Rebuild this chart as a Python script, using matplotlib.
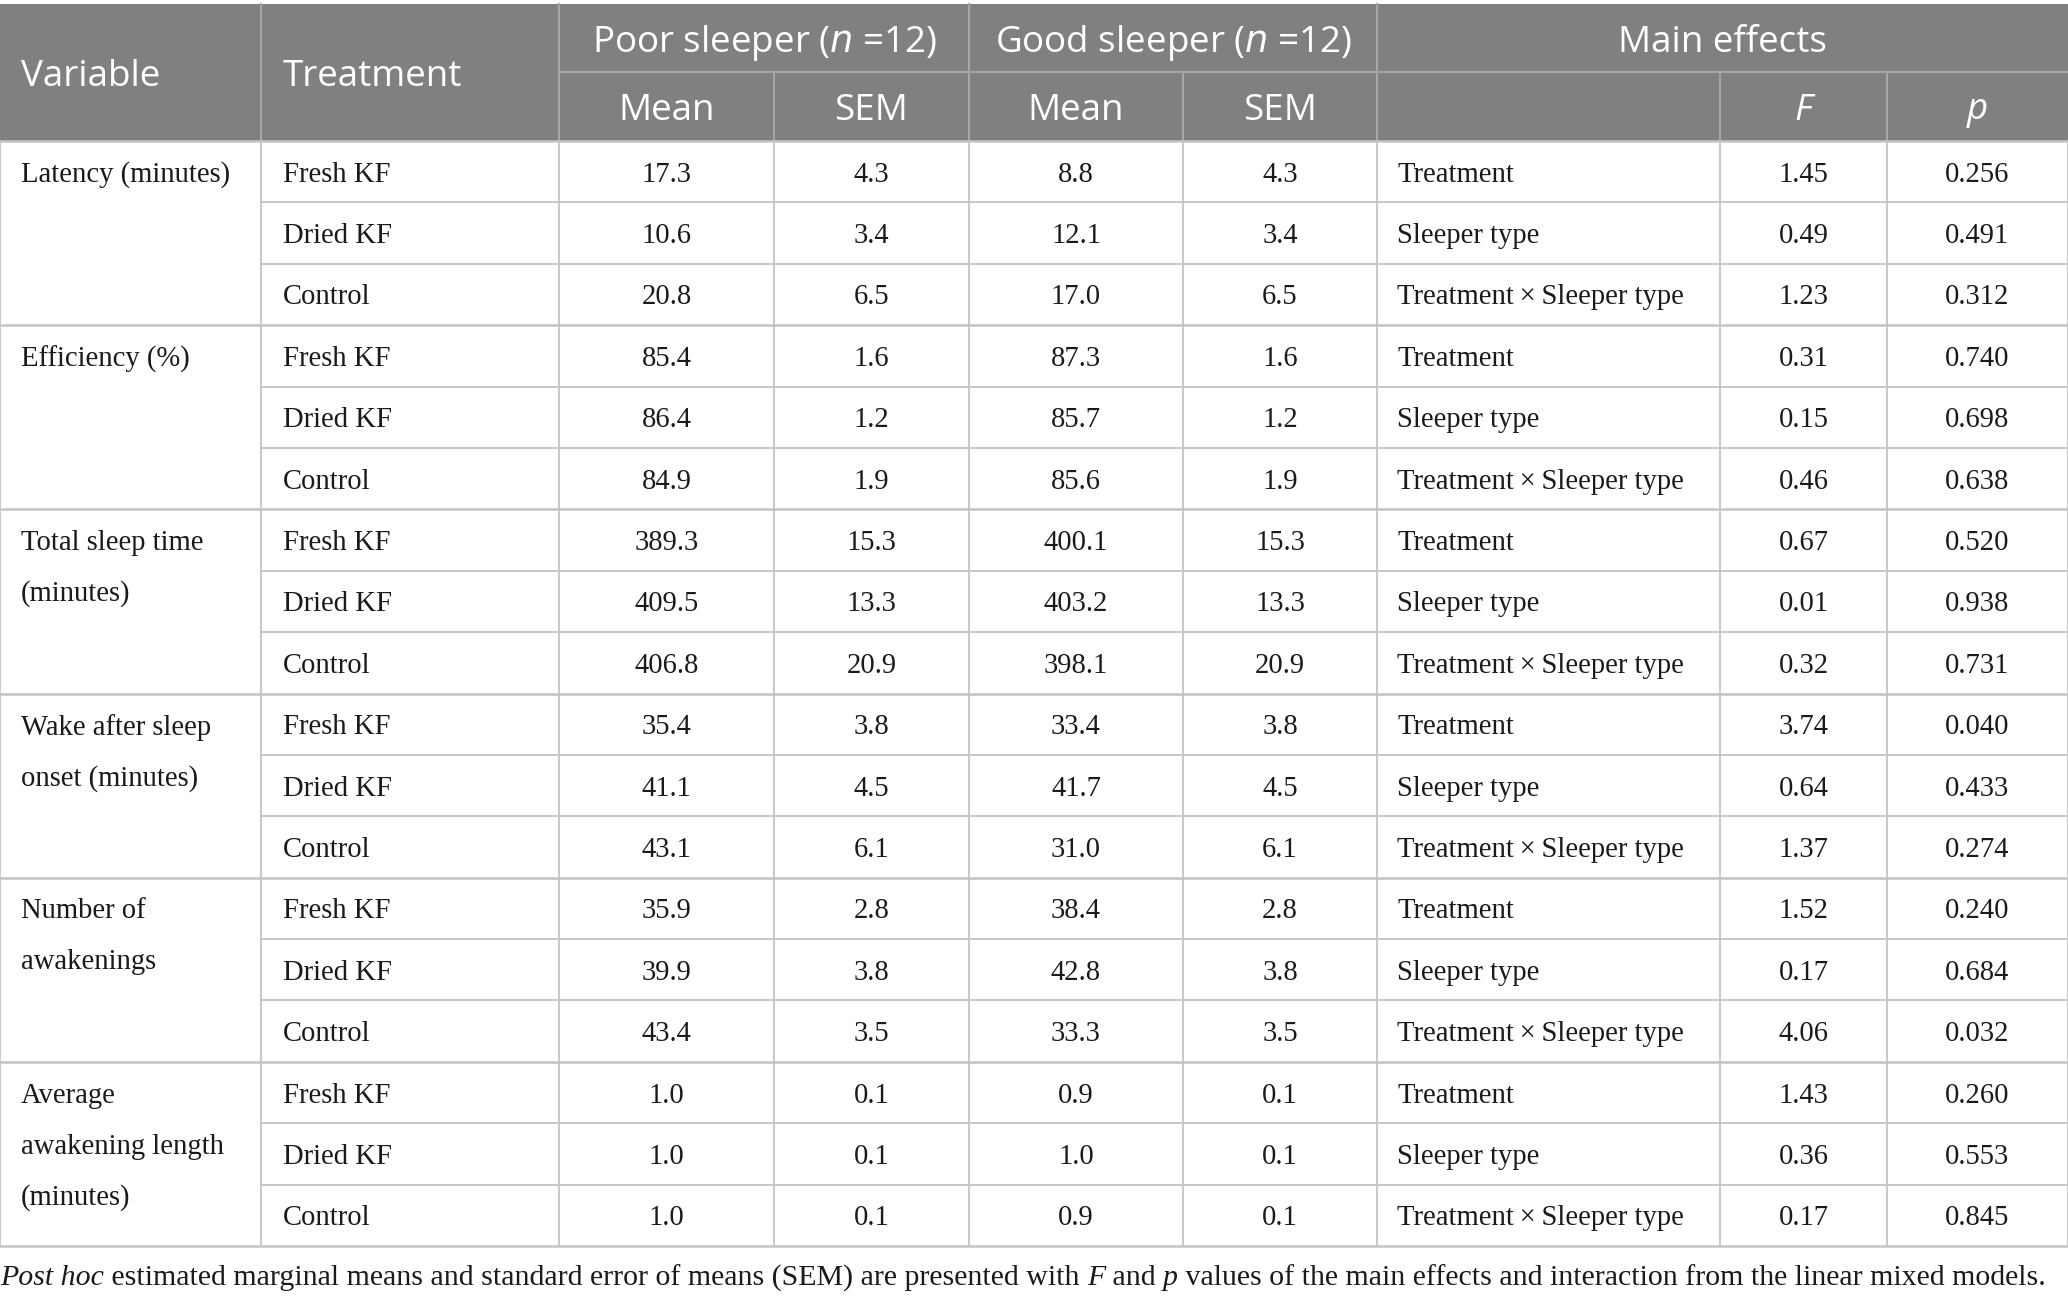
import matplotlib
matplotlib.use("Agg")
import matplotlib.pyplot as plt
from matplotlib.patches import Rectangle

# --- table content ---
variables = ["Latency (minutes)", "Efficiency (%)", "Total sleep time\n(minutes)",
             "Wake after sleep\nonset (minutes)", "Number of\nawakenings",
             "Average\nawakening length\n(minutes)"]
treatments = ["Fresh KF", "Dried KF", "Control"]
effects = ["Treatment", "Sleeper type", "Treatment\u2009\u00d7\u2009Sleeper type"]

poor_mean = ["17.3", "10.6", "20.8", "85.4", "86.4", "84.9", "389.3", "409.5", "406.8",
             "35.4", "41.1", "43.1", "35.9", "39.9", "43.4", "1.0", "1.0", "1.0"]
poor_sem = ["4.3", "3.4", "6.5", "1.6", "1.2", "1.9", "15.3", "13.3", "20.9",
            "3.8", "4.5", "6.1", "2.8", "3.8", "3.5", "0.1", "0.1", "0.1"]
good_mean = ["8.8", "12.1", "17.0", "87.3", "85.7", "85.6", "400.1", "403.2", "398.1",
             "33.4", "41.7", "31.0", "38.4", "42.8", "33.3", "0.9", "1.0", "0.9"]
good_sem = ["4.3", "3.4", "6.5", "1.6", "1.2", "1.9", "15.3", "13.3", "20.9",
            "3.8", "4.5", "6.1", "2.8", "3.8", "3.5", "0.1", "0.1", "0.1"]
f_vals = ["1.45", "0.49", "1.23", "0.31", "0.15", "0.46", "0.67", "0.01", "0.32",
          "3.74", "0.64", "1.37", "1.52", "0.17", "4.06", "1.43", "0.36", "0.17"]
p_vals = ["0.256", "0.491", "0.312", "0.740", "0.698", "0.638", "0.520", "0.938", "0.731",
          "0.040", "0.433", "0.274", "0.240", "0.684", "0.032", "0.260", "0.553", "0.845"]

caption = [("Post hoc", "italic"), (" estimated marginal means and standard error of means (SEM) are presented with ", "normal"),
           ("F", "italic"), (" and ", "normal"), ("p", "italic"),
           (" values of the main effects and interaction from the linear mixed models.", "normal")]

# --- layout (pixels) ---
W, H = 2068, 1298
cols = [0, 261, 559, 774, 969, 1183, 1377, 1720, 1887, 2068]
top, mid, hbot = 4, 72, 141
rh = (1246 - hbot) / 18
head_bg = "#808080"
line_c = "#c4c4c4"
txt_c = "#1a1a1a"
serif = "Liberation Serif"
sans = "Open Sans"
bs = 20.6
hs = 26.5

fig = plt.figure(figsize=(W / 100, H / 100), dpi=100)
ax = fig.add_axes([0, 0, 1, 1])
ax.set_xlim(0, W)
ax.set_ylim(H, 0)
ax.axis("off")

# header
ax.add_patch(Rectangle((0, top), W, hbot - top, color=head_bg, lw=0))
hl = "#a6a6a6"
for x in cols[1:-1]:
    if x in (774, 1183, 1720, 1887):
        ax.plot([x, x], [mid, hbot], color=hl, lw=1.5)
    else:
        ax.plot([x, x], [top, hbot], color=hl, lw=1.5)
ax.plot([559, W], [mid, mid], color=hl, lw=1.5)

hy = (top + hbot) / 2 + 4
ax.text(21, hy, "Variable", fontsize=hs, family=sans, color="white", va="center", ha="left")
ax.text(283, hy, "Treatment", fontsize=hs, family=sans, color="white", va="center", ha="left")
ty = (top + mid) / 2 + 5
sy = (mid + hbot) / 2 + 4
ax.text((559 + 969) / 2, ty, r"Poor sleeper ($\mathit{n}$ =12)", fontsize=hs, family=sans,
        color="white", va="center", ha="center")
ax.text((969 + 1377) / 2, ty, r"Good sleeper ($\mathit{n}$ =12)", fontsize=hs, family=sans,
        color="white", va="center", ha="center")
ax.text((1377 + W) / 2, ty, "Main effects", fontsize=hs, family=sans, color="white",
        va="center", ha="center")
for a, b, s, st in [(559, 774, "Mean", "normal"), (774, 969, "SEM", "normal"),
                    (969, 1183, "Mean", "normal"), (1183, 1377, "SEM", "normal"),
                    (1720, 1887, "F", "italic"), (1887, W, "p", "italic")]:
    ax.text((a + b) / 2, sy, s, fontsize=hs, family=sans, style=st, color="white",
            va="center", ha="center")

# body grid
for i in range(19):
    y = hbot + i * rh
    x0 = 0 if i % 3 == 0 else 261
    ax.plot([x0, W], [y, y], color=line_c, lw=1.8 if i % 3 == 0 else 1.3)
for x in cols:
    ax.plot([x, x], [hbot, hbot + 18 * rh], color=line_c, lw=1.3)

# body text
tp = dict(fontsize=bs, family=serif, color=txt_c, va="center")
for g, v in enumerate(variables):
    for k, line in enumerate(v.split("\n")):
        ax.text(21, hbot + (3 * g + 0.5) * rh + 3 + k * 51, line, ha="left", **tp)
for r in range(18):
    yc = hbot + (r + 0.5) * rh + 3
    ax.text(283, yc, treatments[r % 3], ha="left", **tp)
    ax.text(1397, yc, effects[r % 3], ha="left", **tp)
    for c, vals in zip(range(2, 9), [poor_mean, poor_sem, good_mean, good_sem, None, f_vals, p_vals]):
        if vals is None:
            continue
        ax.text((cols[c] + cols[c + 1]) / 2, yc, vals[r], ha="center", **tp)

# caption pieces laid out one after another
fig.canvas.draw()
rend = fig.canvas.get_renderer()
x = 0
inv = ax.transData.inverted()
for s, st in caption:
    t = ax.text(x, 1278, s, fontsize=21.5, family=serif, style=st, color=txt_c, va="center", ha="left")
    bb = t.get_window_extent(renderer=rend)
    x = inv.transform((bb.x1, bb.y1))[0]

fig.savefig("out.png", dpi=100)
